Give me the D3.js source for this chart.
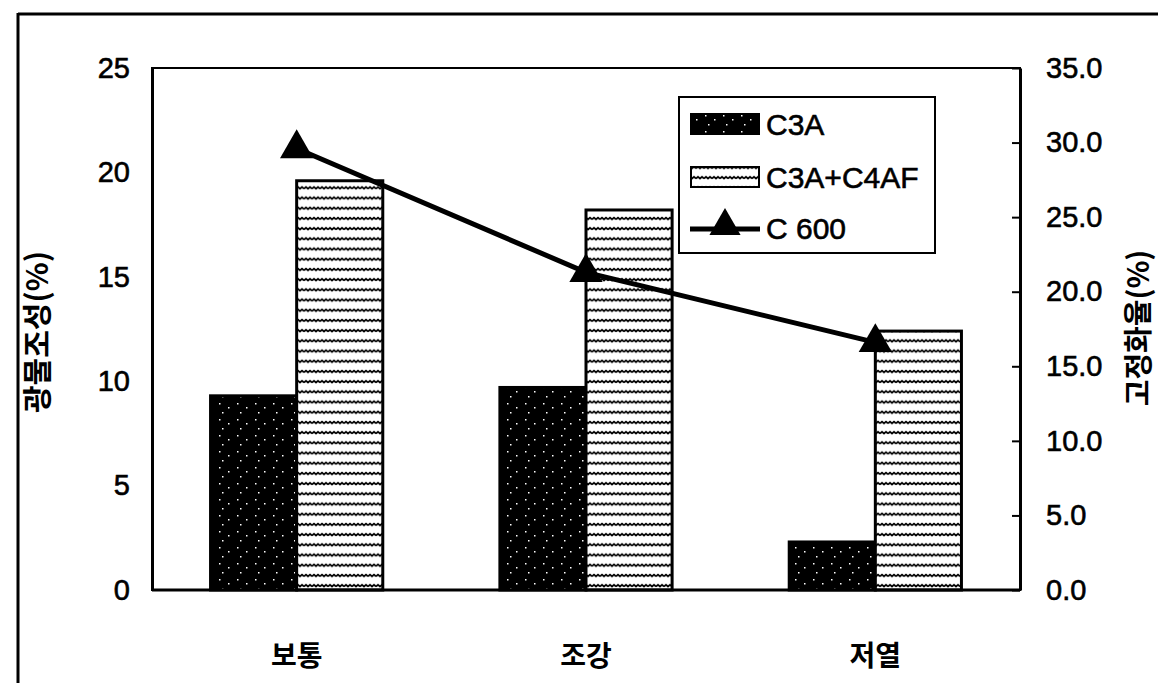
<!DOCTYPE html>
<html>
<head>
<meta charset="utf-8">
<script src="https://cdn.jsdelivr.net/npm/d3@7"></script>
<style>
  body { margin: 0; background: #fff; }
  text { font-family: "Liberation Sans", Arial, sans-serif; fill: #000; }
  .kr { font-family: "Noto Sans CJK KR", sans-serif; }
  .heavy { stroke: #000; stroke-width: 0.6px; }
</style>
</head>
<body>
<div id="canvas"></div>
<script>
// data
const categories = ["보통", "조강", "저열"];
const seriesNames = ["C3A", "C3A+C4AF"];
const c3a = [9.3, 9.7, 2.3];
const c3aC4af = [19.6, 18.2, 12.4];
const c600 = [29.6, 21.3, 16.6];
const leftTicks = [0, 5, 10, 15, 20, 25];
const rightTicks = [0, 5, 10, 15, 20, 25, 30, 35];

let width = 1158;
let height = 683;
let plot = { left: 152, right: 1020, top: 68, bottom: 590 };

let svg = d3.select("#canvas")
  .append("svg")
  .attr("width", width)
  .attr("height", height);

// patterns
let defs = svg.append("defs");
let dots = defs.append("pattern")
  .attr("id", "dots")
  .attr("patternUnits", "userSpaceOnUse")
  .attr("width", 18).attr("height", 16);
dots.append("rect").attr("width", 18).attr("height", 16).attr("fill", "#000");
[[3, 3], [12, 7], [6, 12]].forEach(p => {
  dots.append("rect").attr("x", p[0]).attr("y", p[1])
    .attr("width", 1.5).attr("height", 1.5).attr("fill", "#fff");
});
let waves = defs.append("pattern")
  .attr("id", "waves")
  .attr("patternUnits", "userSpaceOnUse")
  .attr("width", 8).attr("height", 10.2);
waves.append("rect").attr("width", 8).attr("height", 10.2).attr("fill", "#fff");
waves.append("path")
  .attr("d", "M0,5 L2,3.4 L4,5 L6,3.4 L8,5")
  .attr("fill", "none")
  .attr("stroke", "#000")
  .attr("stroke-width", 1.8);

// outer frame (top + left edge)
svg.append("line").attr("x1", 18).attr("x2", width).attr("y1", 14).attr("y2", 14)
  .attr("stroke", "#000").attr("stroke-width", 3);
svg.append("line").attr("x1", 18).attr("x2", 18).attr("y1", 13).attr("y2", height)
  .attr("stroke", "#000").attr("stroke-width", 3);

// scales
let x = d3.scaleBand()
  .domain(categories)
  .range([plot.left, plot.right]);
let xInner = d3.scaleBand()
  .domain(seriesNames)
  .range([0, x.bandwidth()])
  .paddingOuter(0.68);
let yLeft = d3.scaleLinear().domain([0, 25]).range([plot.bottom, plot.top]);
let yRight = d3.scaleLinear().domain([0, 35]).range([plot.bottom, plot.top]);

// plot frame
svg.append("rect")
  .attr("x", plot.left).attr("y", plot.top)
  .attr("width", plot.right - plot.left).attr("height", plot.bottom - plot.top)
  .attr("fill", "none").attr("stroke", "#000").attr("stroke-width", 2);

// bars
let barData = [];
categories.forEach((c, i) => {
  barData.push({ cat: c, s: "C3A", v: c3a[i], fill: "url(#dots)" });
  barData.push({ cat: c, s: "C3A+C4AF", v: c3aC4af[i], fill: "url(#waves)" });
});
svg.selectAll("rect.bar")
  .data(barData)
  .enter()
  .append("rect")
  .attr("class", "bar")
  .attr("x", d => x(d.cat) + xInner(d.s))
  .attr("y", d => yLeft(d.v))
  .attr("width", xInner.bandwidth())
  .attr("height", d => yLeft(0) - yLeft(d.v))
  .attr("fill", d => d.fill)
  .attr("stroke", "#000")
  .attr("stroke-width", 3);

// bottom axis line
svg.append("line")
  .attr("x1", plot.left).attr("x2", plot.right)
  .attr("y1", plot.bottom).attr("y2", plot.bottom)
  .attr("stroke", "#000").attr("stroke-width", 3);

// left axis
let ejeY = d3.axisLeft(yLeft).tickValues(leftTicks).tickSize(0).tickPadding(22);
let gL = svg.append("g")
  .attr("transform", "translate(" + plot.left + ",0)")
  .call(ejeY);
gL.select(".domain").attr("stroke", "#000").attr("stroke-width", 3);
gL.selectAll("text").attr("class", "heavy").attr("font-size", 29)
  .attr("font-family", "Liberation Sans, Arial, sans-serif");

// right axis, ticks pointing inward
let ejeY2 = d3.axisRight(yRight).tickValues(rightTicks).tickSize(0).tickPadding(26)
  .tickFormat(d3.format(".1f"));
let gR = svg.append("g")
  .attr("transform", "translate(" + plot.right + ",0)")
  .call(ejeY2);
gR.select(".domain").attr("stroke", "#000").attr("stroke-width", 3);
gR.selectAll(".tick").append("line")
  .attr("x1", -8).attr("x2", 0)
  .attr("stroke", "#000").attr("stroke-width", 2);
gR.selectAll("text").attr("class", "heavy").attr("font-size", 29)
  .attr("font-family", "Liberation Sans, Arial, sans-serif");

// category labels
svg.selectAll("text.cat")
  .data(categories)
  .enter()
  .append("text")
  .attr("class", "cat kr")
  .attr("x", d => x(d) + x.bandwidth() / 2)
  .attr("y", 666)
  .attr("text-anchor", "middle")
  .attr("font-size", 28)
  .attr("font-weight", "bold")
  .text(d => d);

// axis titles
svg.append("text")
  .attr("class", "kr")
  .attr("transform", "translate(48,332) rotate(-90)")
  .attr("text-anchor", "middle")
  .attr("font-size", 30)
  .attr("font-weight", "bold")
  .text("광물조성(%)");
svg.append("text")
  .attr("class", "kr")
  .attr("transform", "translate(1149,328) rotate(-90)")
  .attr("text-anchor", "middle")
  .attr("font-size", 29)
  .attr("font-weight", "bold")
  .text("고정화율(%)");

// C 600 line
let linePts = categories.map((c, i) => ({ x: x(c) + x.bandwidth() / 2, y: yRight(c600[i]) }));
svg.append("path")
  .datum(linePts)
  .attr("d", d3.line().x(d => d.x).y(d => d.y))
  .attr("fill", "none")
  .attr("stroke", "#000")
  .attr("stroke-width", 5);
svg.selectAll("path.mark")
  .data(linePts)
  .enter()
  .append("path")
  .attr("class", "mark")
  .attr("transform", d => "translate(" + d.x + "," + d.y + ")")
  .attr("d", d3.symbol().type(d3.symbolTriangle).size(480))
  .attr("fill", "#000");

// legend
let lg = svg.append("g");
lg.append("rect")
  .attr("x", 679).attr("y", 97).attr("width", 256).attr("height", 156)
  .attr("fill", "#fff").attr("stroke", "#000").attr("stroke-width", 2);
lg.append("rect").attr("x", 691).attr("y", 114).attr("width", 68).attr("height", 20)
  .attr("fill", "url(#dots)").attr("stroke", "#000").attr("stroke-width", 2);
lg.append("rect").attr("x", 691).attr("y", 167).attr("width", 68).attr("height", 20)
  .attr("fill", "url(#waves)").attr("stroke", "#000").attr("stroke-width", 2);
lg.append("line").attr("x1", 690).attr("x2", 760).attr("y1", 229).attr("y2", 229)
  .attr("stroke", "#000").attr("stroke-width", 5);
lg.append("path")
  .attr("transform", "translate(725,226)")
  .attr("d", d3.symbol().type(d3.symbolTriangle).size(420))
  .attr("fill", "#000");
let legendLabels = ["C3A", "C3A+C4AF", "C 600"];
lg.selectAll("text")
  .data(legendLabels)
  .enter()
  .append("text")
  .attr("class", "heavy")
  .attr("x", 766)
  .attr("y", (d, i) => [135, 188, 239][i])
  .attr("font-size", 30)
  .text(d => d);
</script>
</body>
</html>
